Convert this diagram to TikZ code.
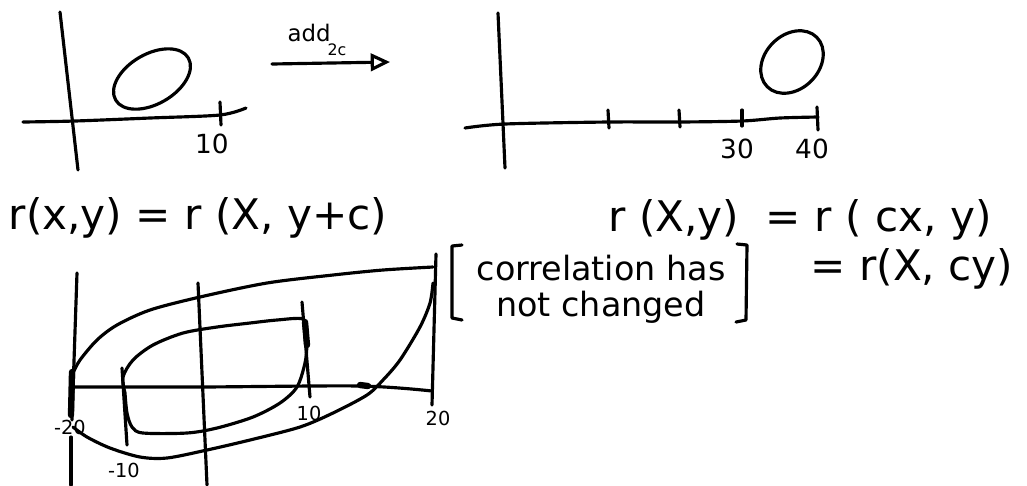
\documentclass[tikz,border=0pt]{standalone}
\usepackage{fontspec}
\setmainfont{DejaVu Sans}
\usetikzlibrary{arrows.meta}

\begin{document}
\begin{tikzpicture}[
  x=0.02cm, y=-0.02cm,
  pen/.style={line width=1.8pt, line cap=round, line join=round},
  ink/.style={line width=3.6pt, line cap=round},
  formula/.style={font=\fontsize{24}{28}\selectfont, inner sep=0pt},
  remark/.style={font=\fontsize{19}{21}\selectfont, inner sep=0pt},
  ticklbl/.style={font=\fontsize{15}{18}\selectfont, inner sep=0pt},
  smalllbl/.style={font=\fontsize{11}{13}\selectfont, inner sep=0pt}
  ]
  \useasboundingbox (0,0) rectangle (1027,485);

  % before: cloud near the origin
  \draw[pen] (60,12) -- (78,170);
  \draw[pen] plot[smooth] coordinates {(23,122) (75,121) (150,118) (220,115) (246,108)};
  \draw[pen] (220,102) -- (221,125);
  \draw[pen, rotate around={30:(152,79)}] (152,79) ellipse (42 and 25);
  \node[ticklbl] (ten) at (212,144) {10};

  % shift arrow
  \coordinate (shiftA) at (272,64);
  \coordinate (shiftB) at (390,62);
  \draw[pen, -{Triangle[open, length=11pt, width=10pt, line width=1.8pt]}] (shiftA) -- (shiftB);
  \node[font=\fontsize{13}{15}\selectfont, inner sep=0pt] (add) at (309,33) {add};
  \node[font=\fontsize{9}{11}\selectfont, inner sep=0pt] (twoc) at (337,50) {2c};

  % after: cloud moved right
  \draw[pen] (498,13) -- (505,168);
  \draw[pen] plot[smooth] coordinates {(465,128) (505,124) (608,122) (679,122) (742,121) (780,118) (818,117)};
  \draw[pen] (608,110) -- (609,128);
  \draw[pen] (679,110) -- (680,127);
  \draw[pen] (742,110) -- (742,126);
  \draw[pen] (817,107) -- (818,130);
  \draw[pen, rotate around={45:(792,62)}] (792,62) ellipse (35 and 27);
  \node[ticklbl] (thirty) at (737,149) {30};
  \node[ticklbl] (forty) at (812,149) {40};

  % formulas
  \node[formula, anchor=base] (shiftr) at (198,229) {r(x,y) = r (X, y+c)};
  \node[formula, anchor=base] (scaler) at (800,231) {r (X,y) \ = r ( cx, y)};
  \node[formula, anchor=base] (scaler2) at (912,280) {= r(X, cy)};
  \node[remark, anchor=base] (corr) at (601,280) {correlation has};
  \node[remark, anchor=base] (changed) at (601,316) {not changed};
  \draw[pen] (462,245) -- (452,246) -- (452,318) -- (462,320);
  \draw[pen] (737,244) -- (747,245) -- (746,320) -- (736,322);

  % bottom sketch: two nested clouds
  \draw[pen] (77,273) -- (72,420);
  \draw[pen] (71,437) -- (71,485);
  \draw[pen] (198,283) -- (207,485);
  \draw[pen] (436,254) -- (432,405);
  \draw[pen] plot[smooth] coordinates {(72,387) (200,387) (360,386) (432,391)};
  \draw[pen] (122,368) -- (127,445);
  \draw[pen] (302,302) -- (310,397);
  \draw[ink] (72,372) -- (71,415);
  \draw[ink] (305,322) -- (307,345);
  \draw[ink] (360,385) -- (368,386);

  \draw[pen] plot[smooth] coordinates {(125,393) (123,377) (133,360) (153,345) (183,333) (217,327)
    (250,323) (277,320) (303,319) (307,332) (307,345) (305,363) (297,387) (280,403) (253,417)
    (217,428) (187,433) (143,433) (132,427) (127,413) (125,393)};
  \draw[pen] plot[smooth] coordinates {(73,373) (80,360) (97,340) (117,325) (150,310) (200,297)
    (267,283) (333,275) (383,270) (433,267)};
  \draw[pen] plot[smooth] coordinates {(433,283) (430,303) (420,327) (400,360) (383,380) (367,395)
    (333,413) (300,427) (250,440) (207,450) (167,458) (140,457) (110,448) (87,437) (73,427)};

  \node[smalllbl] (mtwenty) at (70,427) {-20};
  \node[smalllbl] (mten) at (124,470) {-10};
  \node[smalllbl] (pten) at (309,413) {10};
  \node[smalllbl] (ptwenty) at (438,418) {20};
\end{tikzpicture}
\end{document}
